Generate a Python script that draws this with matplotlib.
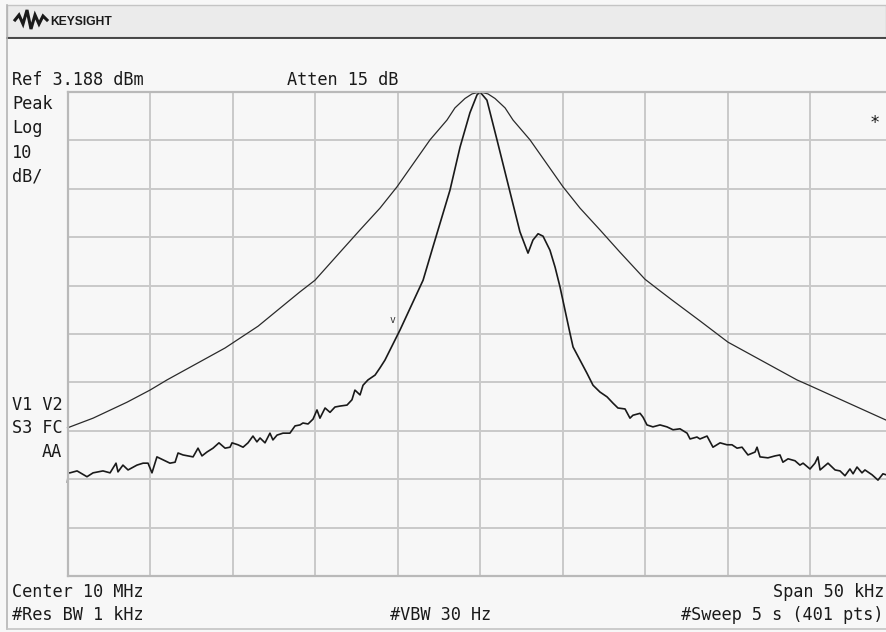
import numpy as np
import matplotlib
matplotlib.use('Agg')
import matplotlib.pyplot as plt
from matplotlib.patches import Rectangle

# analyzer settings
ref_dbm = 3.188
db_per_div = 10
span_khz = 50

# wide (smooth) trace: offset from 10 MHz centre in kHz, level in dBm
wide_khz = [-25.0, -23.45, -21.39, -20.0, -18.97, -15.45, -13.45, -11.52, -10.91, -10.0,
            -8.48, -7.27, -6.06, -5.03, -3.03, -2.0, -1.52, -0.91, -0.48, 0.0,
            0.48, 0.91, 1.52, 2.0, 3.03, 5.03, 6.06, 7.27, 8.48, 10.0,
            10.91, 11.64, 13.33, 15.03, 19.21, 19.94, 24.61, 25.0]
wide_dbm = [-66.2, -64.2, -60.9, -58.4, -56.3, -49.7, -45.2, -39.8, -38.1, -35.7,
            -29.9, -25.3, -20.8, -16.4, -6.7, -2.6, -0.1, 1.85, 2.8, 3.19,
            2.8, 1.85, -0.1, -2.6, -6.7, -16.4, -20.8, -25.3, -29.9, -35.5,
            -37.9, -39.8, -44.1, -48.5, -56.3, -57.4, -64.6, -65.2]

# narrow (noisy) trace
narrow_khz = [-25.0, -24.95, -24.85, -24.42, -23.82, -23.45, -22.85, -22.42, -22.06, -21.94,
              -21.64, -21.33, -20.79, -20.42, -20.12, -19.88, -19.58, -19.21, -18.79, -18.48,
              -18.30, -18.0, -17.70, -17.39, -17.09, -16.85, -16.55, -16.18, -15.82, -15.45,
              -15.15, -15.03, -14.67, -14.36, -14.06, -13.76, -13.52, -13.33, -13.03, -12.73,
              -12.55, -12.30, -11.94, -11.52, -11.21, -10.91, -10.73, -10.42, -10.12, -9.88,
              -9.70, -9.39, -9.09, -8.79, -8.48, -8.06, -7.76, -7.58, -7.27, -7.09,
              -6.79, -6.36, -6.06, -5.76, -5.45, -5.15, -4.85, -3.45, -2.85, -1.82,
              -1.21, -0.61, -0.18, 0.0, 0.42, 1.03, 1.64, 1.94, 2.42, 2.91,
              3.21, 3.52, 3.82, 4.24, 4.55, 4.85, 5.15, 5.45, 5.64, 6.06,
              6.48, 6.85, 7.27, 7.70, 8.06, 8.36, 8.79, 9.09, 9.27, 9.70,
              9.88, 10.12, 10.48, 10.91, 11.33, 11.70, 12.12, 12.55, 12.73, 13.15,
              13.33, 13.76, 14.12, 14.55, 14.97, 15.27, 15.58, 15.88, 16.24, 16.67,
              16.79, 16.97, 17.45, 17.88, 18.18, 18.36, 18.67, 19.09, 19.39, 19.58,
              20.0, 20.30, 20.48, 20.61, 21.09, 21.52, 21.82, 22.12, 22.42, 22.61,
              22.85, 23.15, 23.33, 23.76, 24.12, 24.42, 24.61, 25.0]
narrow_dbm = [-77.4, -75.5, -75.5, -75.1, -76.3, -75.5, -75.1, -75.5, -73.5, -75.3,
              -73.9, -74.9, -73.9, -73.5, -73.5, -75.5, -72.2, -72.8, -73.5, -73.3,
              -71.4, -71.8, -72.0, -72.2, -70.4, -72.0, -71.2, -70.4, -69.3, -70.4,
              -70.2, -69.3, -69.7, -70.2, -69.3, -67.9, -69.1, -68.3, -69.3, -67.3,
              -68.7, -67.7, -67.3, -67.3, -65.8, -65.6, -65.2, -65.4, -64.4, -62.5,
              -64.2, -62.1, -63.0, -61.9, -61.7, -61.5, -60.4, -58.4, -59.4, -57.4,
              -56.3, -55.3, -53.8, -52.2, -50.1, -48.1, -46.0, -35.7, -28.8, -17.1,
              -8.2, -1.1, 2.6, 3.2, 1.5, -6.7, -15.0, -19.1, -25.7, -30.1,
              -27.4, -26.1, -26.6, -29.5, -33.0, -37.1, -41.9, -46.6, -49.5, -52.2,
              -54.9, -57.4, -58.8, -59.8, -61.1, -62.1, -62.3, -64.2, -63.6, -63.2,
              -64.0, -65.6, -66.0, -65.6, -66.0, -66.6, -66.4, -67.3, -68.5, -68.1,
              -68.5, -67.9, -70.2, -69.3, -69.7, -69.7, -70.4, -70.2, -71.8, -71.2,
              -70.2, -72.2, -72.4, -72.0, -71.8, -73.3, -72.6, -73.0, -73.9, -73.5,
              -74.7, -73.5, -72.2, -74.9, -73.5, -74.9, -75.1, -76.1, -74.7, -75.7,
              -74.3, -75.5, -74.9, -75.9, -77.0, -75.7, -75.9, -76.0]

# marker position (kHz, dBm)
marker_khz = -5.33
marker_dbm = -44.6

plt.rcParams['font.family'] = ['DejaVu Sans Mono']
W, H = 886, 632
fig = plt.figure(figsize=(W / 100, H / 100), dpi=100)
fig.patch.set_facecolor('#f7f7f7')

# screen furniture in pixel coordinates
bg = fig.add_axes([0, 0, 1, 1])
bg.set_xlim(0, W)
bg.set_ylim(H, 0)
bg.axis('off')
bg.add_patch(Rectangle((7, 5), W - 7, 32, facecolor='#ebebeb', edgecolor='#c4c4c4', lw=1))
bg.plot([7, W], [37.5, 37.5], color='#3a3a3a', lw=1.3)
bg.plot([7, 7], [5, 629], color='#b4b4b4', lw=1.2)
bg.plot([7, W], [629, 629], color='#c4c4c4', lw=1.2)
# keysight wave logo
bg.plot([15, 19, 23, 27, 31, 35, 39, 43, 47], [20, 15, 24, 10, 29, 15, 24, 16, 20],
        color='#1a1a1a', lw=2.2, solid_joinstyle='miter')
bg.text(50, 25, 'KEYSIGHT', fontsize=8.7, fontweight='bold', family='Liberation Sans',
        color='#1a1a1a', va='baseline')

fs = 12.2
txt = dict(fontsize=fs, color='#1a1a1a', va='baseline')
bg.text(12, 85, 'Ref 3.188 dBm', **txt)
bg.text(287, 85, 'Atten 15 dB', **txt)
for i, s in enumerate(['Peak', 'Log', '10', 'dB/']):
    bg.text(12, 109 + 24.3 * i, s, **txt)
bg.text(12, 410, 'V1 V2', **txt)
bg.text(12, 433, 'S3 FC', **txt)
bg.text(62, 457, 'AA', ha='right', **txt)
bg.text(875, 128, '*', ha='center', **txt)
bg.text(12, 597, 'Center 10 MHz', **txt)
bg.text(884, 597, 'Span 50 kHz', ha='right', **txt)
bg.text(12, 620, '#Res BW 1 kHz', **txt)
bg.text(390, 620, '#VBW 30 Hz', **txt)
bg.text(884, 620, '#Sweep 5 s (401 pts)', ha='right', **txt)

# graticule
left, right, top, bottom = 67.5, 892.5, 92, 576
ax = fig.add_axes([left / W, (H - bottom) / H, (right - left) / W, (bottom - top) / H])
ax.set_facecolor('none')
ax.set_xlim(-span_khz / 2, span_khz / 2)
ax.set_ylim(ref_dbm - 10 * db_per_div, ref_dbm)
ax.set_xticks(np.arange(-25, 26, 5))
ax.set_yticks(ref_dbm - db_per_div * np.arange(11))
ax.grid(color='#c9c9c9', lw=1.4)
ax.tick_params(length=0, labelbottom=False, labelleft=False)
for sp in ax.spines.values():
    sp.set_color('#b9b9b9')
    sp.set_linewidth(1.6)

ax.plot(wide_khz, wide_dbm, color='#2a2a2a', lw=0.9, clip_on=False)
ax.plot(narrow_khz, narrow_dbm, color='#1a1a1a', lw=1.2, clip_on=False)
ax.text(marker_khz, marker_dbm, 'v', fontsize=7, ha='center', va='baseline', color='#333333')

fig.savefig('out.png', dpi=100, facecolor=fig.get_facecolor())
